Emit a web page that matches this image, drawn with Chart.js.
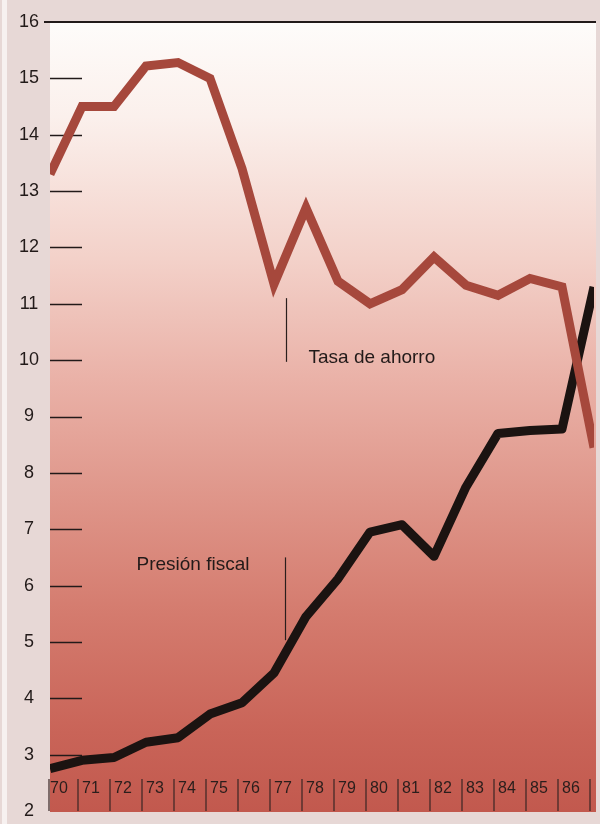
<!DOCTYPE html>
<html>
<head>
<meta charset="utf-8">
<script src="https://cdn.jsdelivr.net/npm/chart.js@4/dist/chart.umd.min.js"></script>
<style>
  html, body { margin: 0; padding: 0; background: #e8dad8; }
  canvas { display: block; }
</style>
</head>
<body>
<canvas id="chart" width="600" height="824"></canvas>
<script>
// Years 1970–1987 (two-digit labels); the last year carries no printed label
const years = ['70','71','72','73','74','75','76','77','78','79','80','81','82','83','84','85','86','87'];
const yearLabels = ['70','71','72','73','74','75','76','77','78','79','80','81','82','83','84','85','86',''];

// Savings rate and tax pressure, in percent
const tasaAhorro    = [13.3, 14.5, 14.5, 15.22, 15.28, 15.0, 13.4, 11.35, 12.7, 11.4, 11.0, 11.25, 11.83, 11.33, 11.15, 11.45, 11.3, 8.45];
const presionFiscal = [2.75, 2.9, 2.95, 3.22, 3.3, 3.72, 3.92, 4.45, 5.45, 6.12, 6.95, 7.08, 6.52, 7.75, 8.7, 8.75, 8.78, 11.3];

// Value axis range
const yMin = 2;
const yMax = 16;

// Callout labels: text, year index the leader line sits next to, leader top/bottom values
const callouts = [
  { text: 'Tasa de ahorro', index: 7, dx: 12, from: 11.1, to: 9.97, textDx: 22, textAt: 9.95 },
  { text: 'Presión fiscal', index: 7, dx: 11, from: 6.5, to: 5.03, textDx: -149, textAt: 6.27 }
];

const INK = '#221a19';

const backdrop = {
  id: 'backdrop',
  beforeDraw(chart) {
    const { ctx, chartArea: a } = chart;
    ctx.save();
    ctx.fillStyle = '#e7d8d6';
    ctx.fillRect(0, 0, chart.width, chart.height);
    // paper edge highlight on the left
    ctx.fillStyle = '#f7f1f0';
    ctx.fillRect(2, 0, 5, chart.height);
    // shaded plotting panel
    const g = ctx.createLinearGradient(0, a.top, 0, a.bottom);
    g.addColorStop(0.00, '#fefcfa');
    g.addColorStop(0.12, '#fbf0ec');
    g.addColorStop(0.30, '#f3d1c9');
    g.addColorStop(0.45, '#eab2a8');
    g.addColorStop(0.60, '#df968a');
    g.addColorStop(0.75, '#d47b6e');
    g.addColorStop(0.90, '#c96458');
    g.addColorStop(1.00, '#c2594e');
    ctx.fillStyle = g;
    ctx.fillRect(a.left, a.top, a.right - a.left + 2, a.bottom - a.top + 1);
    ctx.restore();
  },
  beforeDatasetsDraw(chart) {
    const { ctx, chartArea: a, scales: { x, y } } = chart;
    ctx.save();
    ctx.strokeStyle = INK;
    // top rule at the 16 level
    ctx.lineWidth = 2;
    ctx.beginPath();
    ctx.moveTo(a.left - 6, y.getPixelForValue(yMax));
    ctx.lineTo(a.right + 2, y.getPixelForValue(yMax));
    ctx.stroke();
    // short value ticks inside the panel
    ctx.lineWidth = 1.5;
    for (let v = yMin + 1; v < yMax; v++) {
      const py = Math.round(y.getPixelForValue(v)) + 0.5;
      ctx.beginPath();
      ctx.moveTo(a.left, py);
      ctx.lineTo(a.left + 32, py);
      ctx.stroke();
    }
    // year ticks rising from the bottom edge
    ctx.lineWidth = 1.2;
    ctx.strokeStyle = '#3a2624';
    years.forEach((_, i) => {
      const px = Math.min(Math.max(x.getPixelForValue(i) - 4, a.left - 1), a.right - 3);
      ctx.beginPath();
      ctx.moveTo(px, a.bottom - 32);
      ctx.lineTo(px, a.bottom);
      ctx.stroke();
    });
    ctx.restore();
  },
  afterDatasetsDraw(chart) {
    const { ctx, scales: { x, y } } = chart;
    ctx.save();
    ctx.strokeStyle = '#2a1e1d';
    ctx.lineWidth = 1.2;
    ctx.fillStyle = INK;
    ctx.font = '19px "Liberation Sans", Arial, sans-serif';
    ctx.textBaseline = 'alphabetic';
    callouts.forEach(c => {
      const px = Math.round(x.getPixelForValue(c.index) + c.dx) + 0.5;
      ctx.beginPath();
      ctx.moveTo(px, y.getPixelForValue(c.from));
      ctx.lineTo(px, y.getPixelForValue(c.to));
      ctx.stroke();
      ctx.fillText(c.text, px + c.textDx, y.getPixelForValue(c.textAt));
    });
    ctx.restore();
  }
};

new Chart(document.getElementById('chart'), {
  type: 'line',
  data: {
    labels: years,
    datasets: [
      {
        label: 'Tasa de ahorro',
        data: tasaAhorro,
        borderColor: '#a6483c',
        borderWidth: 9,
        borderJoinStyle: 'miter',
        borderCapStyle: 'butt',
        pointRadius: 0,
        tension: 0,
        clip: 0
      },
      {
        label: 'Presión fiscal',
        data: presionFiscal,
        borderColor: '#1b1311',
        borderWidth: 9,
        borderJoinStyle: 'round',
        borderCapStyle: 'butt',
        pointRadius: 0,
        tension: 0,
        clip: 0
      }
    ]
  },
  options: {
    responsive: false,
    animation: false,
    devicePixelRatio: 1,
    layout: { padding: { left: 0, right: 6, top: 22, bottom: 13 } },
    plugins: { legend: { display: false }, tooltip: { enabled: false } },
    scales: {
      x: {
        grid: { display: false },
        border: { display: false },
        afterFit(scale) {
          scale.height = 0;
          scale.paddingLeft = 0;
          scale.paddingRight = 0;
        },
        ticks: {
          autoSkip: false,
          maxRotation: 0,
          align: 'start',
          mirror: true,
          padding: 13,
          color: '#2a1e1c',
          font: { family: '"Liberation Sans", Arial, sans-serif', size: 16 },
          callback: (v, i) => yearLabels[i]
        }
      },
      y: {
        min: yMin,
        max: yMax,
        grid: { display: false, drawTicks: false },
        border: { display: false },
        afterFit(scale) {
          scale.width = 50;
          scale.paddingTop = 0;
          scale.paddingBottom = 0;
        },
        ticks: {
          stepSize: 1,
          crossAlign: 'center',
          padding: 11,
          color: INK,
          font: { family: '"Liberation Sans Narrow", "Liberation Sans", Arial, sans-serif', size: 18 }
        }
      }
    }
  },
  plugins: [backdrop]
});
</script>
</body>
</html>
